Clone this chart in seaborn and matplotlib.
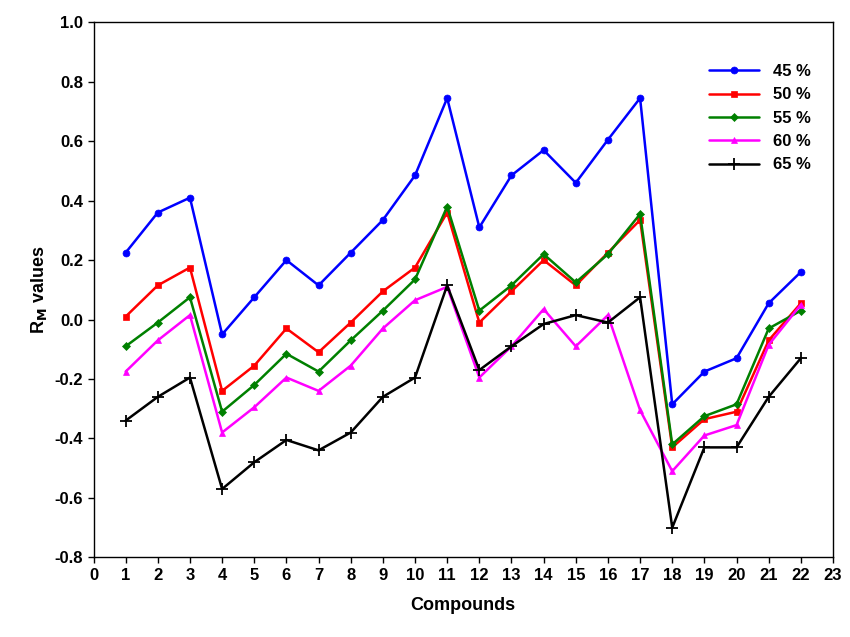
import matplotlib
matplotlib.use("Agg")
import matplotlib.pyplot as plt
import seaborn as sns
import pandas as pd

compounds = list(range(1, 23))
s45 = [0.225,0.36,0.41,-0.05,0.075,0.2,0.115,0.225,0.335,0.485,0.745,0.31,0.485,0.57,0.46,0.605,0.745,-0.285,-0.175,-0.13,0.055,0.16]
s50 = [0.01,0.115,0.175,-0.24,-0.155,-0.03,-0.11,-0.01,0.095,0.175,0.36,-0.01,0.095,0.2,0.115,0.225,0.335,-0.43,-0.335,-0.31,-0.07,0.055]
s55 = [-0.09,-0.01,0.075,-0.31,-0.22,-0.115,-0.175,-0.07,0.03,0.135,0.38,0.03,0.115,0.22,0.125,0.22,0.355,-0.42,-0.325,-0.285,-0.03,0.03]
s60 = [-0.175,-0.07,0.015,-0.38,-0.295,-0.195,-0.24,-0.155,-0.03,0.065,0.11,-0.195,-0.09,0.035,-0.09,0.015,-0.305,-0.51,-0.39,-0.355,-0.085,0.05]
s65 = [-0.34,-0.26,-0.195,-0.57,-0.48,-0.405,-0.44,-0.38,-0.26,-0.195,0.115,-0.17,-0.09,-0.015,0.015,-0.01,0.075,-0.7,-0.43,-0.43,-0.26,-0.13]
labels = ["45 %", "50 %", "55 %", "60 %", "65 %"]
series = [s45, s50, s55, s60, s65]
colors = ["#0000ff", "#ff0000", "#008000", "#ff00ff", "#000000"]
markers = ["o", "s", "D", "^", "+"]

sns.set_style("ticks")
plt.rcParams['font.family'] = ['Liberation Sans', 'DejaVu Sans']
plt.rcParams['font.weight'] = 'bold'
for k in ['text.color', 'axes.labelcolor', 'xtick.color', 'ytick.color', 'axes.edgecolor']:
    plt.rcParams[k] = 'black'

rows = []
for lab, s in zip(labels, series):
    for c, v in zip(compounds, s):
        rows.append({"Compound": c, "RM": v, "Series": lab})
df = pd.DataFrame(rows)

fig, ax = plt.subplots(figsize=(8.5, 6.37), dpi=100)
fig.subplots_adjust(left=0.11, right=0.98, top=0.965, bottom=0.125)
for lab, col, mk in zip(labels, colors, markers):
    d = df[df.Series == lab]
    ms = 9 if mk == "+" else (4 if mk == "D" else 5)
    sns.lineplot(data=d, x="Compound", y="RM", ax=ax, color=col, marker=mk,
                 markersize=ms, markeredgecolor=col, markeredgewidth=1.3 if mk == "+" else 0.5,
                 linewidth=1.8, label=lab)

ax.set_xlim(0, 23)
ax.set_ylim(-0.8, 1.0)
ax.set_xticks(range(0, 24))
ax.set_yticks([-0.8,-0.6,-0.4,-0.2,0.0,0.2,0.4,0.6,0.8,1.0])
ax.set_yticklabels([f"{v:.1f}" for v in ax.get_yticks()])
ax.tick_params(labelsize=12, width=1, length=4)
for l in ax.get_xticklabels() + ax.get_yticklabels():
    l.set_fontweight('bold')
for sp in ax.spines.values():
    sp.set_visible(True)
    sp.set_linewidth(1)
ax.set_xlabel("Compounds", fontsize=13, fontweight='bold', labelpad=10)
ax.set_ylabel(r"R$_\mathbf{M}$ values", fontsize=13, fontweight='bold')
leg = ax.legend(loc="upper right", bbox_to_anchor=(0.99, 0.95), frameon=False,
                prop={'size': 12, 'weight': 'bold'}, handlelength=3)
fig.savefig("out.png", dpi=100)
